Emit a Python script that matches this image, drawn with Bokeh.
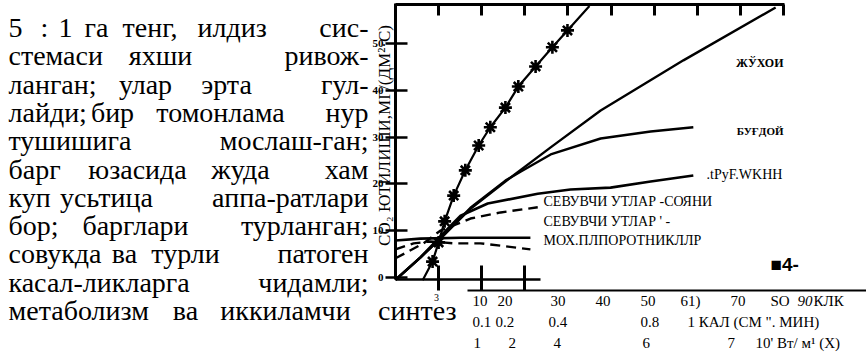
import math
from bokeh.plotting import figure
from bokeh.models import Range1d, LinearAxis, FixedTicker, Label
from bokeh.embed import file_html
from bokeh.resources import INLINE

# ---------------- data (light in klx, CO2 uptake) ----------------
star_x = [6.3, 8.6, 10.0, 11.4, 13.5, 16.2, 19.3, 22.0, 25.5, 28.5, 32.5, 36.4, 39.9, 45.0]
star_y = [-0.6, 3.4, 7.5, 12.0, 17.5, 22.9, 28.2, 32.1, 36.3, 40.8, 45.1, 49.2, 52.8, 58.0]

maize_x = [0, 5.8, 10.4, 17.4, 25.5, 36.0, 47.6, 66.8, 88.2]
maize_y = [-0.5, 4.3, 8.3, 14.7, 20.5, 27.8, 35.7, 46.4, 57.7]

wheat_x = [0, 5.8, 10.4, 17.4, 25.5, 29.0, 36.0, 47.6, 59.2, 69.1]
wheat_y = [-0.5, 4.3, 8.3, 14.9, 20.7, 22.6, 26.3, 29.7, 31.2, 32.1]

pepper_x = [0, 5.8, 12.8, 15.1, 21.4, 33.0, 40.6, 49.9, 59.2, 69.1]
pepper_y = [-0.5, 4.3, 11.1, 13.2, 15.8, 17.9, 18.8, 19.2, 20.5, 21.8]

sun_herb_x = [0, 6.5, 10.4, 17.4, 24.4, 33.0]
sun_herb_y = [4.1, 7.3, 10.0, 12.6, 13.9, 15.0]

shade_herb_x = [0, 4.2, 8.1, 13.5, 19.7, 24.4, 31.3]
shade_herb_y = [6.0, 7.3, 7.7, 7.3, 7.3, 6.8, 6.0]

moss_x = [0, 5.8, 15.1, 31.3]
moss_y = [7.9, 8.3, 8.5, 8.5]

y_ticks = [0, 10, 20, 30, 40, 50]
top_ticks = [10, 20, 30, 40, 50, 60, 70, 80, 90]
inner_ticks = [10, 20, 30]

klk_labels = ["10", "20", "30", "40", "50", "61)", "70", "SO", "90", "КЛК"]
cal_labels = ["0.1", "0.2", "0.4", "0.8", '1 КАЛ (СМ ". МИН)']
wm_labels = ["1", "2", "4", "6", "7", "10' Вт/ м¹ (Х)"]

series_names = ["ЖЎХОИ", "БУҒДОЙ", ".tPyF.WKHH",
                "СЕВУВЧИ УТЛАР -СОЯНИ", "СЕВУВЧИ УТЛАР ' -", "МОХ.ПЛПОРОТНИКЛЛР"]
y_title = "СО₂ ЮТИЛИШИ,МГ/(ДМ²·С)"

paragraph = [
    ["5", ":", "1", "га", "тенг,", "илдиз", "сис-"],
    ["стемаси", "яхши", "ривож-"],
    ["ланган;", "улар", "эрта", "гул-"],
    ["лайди;", "бир", "томонлама", "нур"],
    ["тушишига", "мослаш-ган;"],
    ["барг", "юзасида", "жуда", "хам"],
    ["куп", "усьтица", "аппа-ратлари"],
    ["бор;", "барглари", "турланган;"],
    ["совукда", "ва", "турли", "патоген"],
    ["касал-ликларга", "чидамли;"],
    ["метаболизм", "ва", "иккиламчи", "синтез"],
]

# ---------------- layout helpers (reference pixel -> data) ----------------
X0, XS = 395.0, 4.31     # pixel of x=0, pixels per klx
Y0, YS = 277.0, 4.68     # pixel of y=0, pixels per unit


def X(px):
    return (px - X0) / XS


def Y(py):
    return (Y0 - py) / YS


SERIF = "'Liberation Serif', 'Times New Roman', serif"
SANS = "'Liberation Sans', Arial, sans-serif"
W, H = 866, 360

p = figure(width=W, height=H,
           x_range=Range1d(X(0), X(W)), y_range=Range1d(Y(H), Y(0)),
           output_backend="svg", toolbar_location=None,
           x_axis_location=None, y_axis_location=None,
           min_border=0, min_border_left=0, min_border_right=0,
           min_border_top=0, min_border_bottom=0)
p.grid.visible = False
p.outline_line_color = None
p.background_fill_color = "white"
p.border_fill_color = "white"

# y axis
yax = LinearAxis(ticker=FixedTicker(ticks=y_ticks), bounds=(Y(279), Y(3)),
                 fixed_location=0,
                 axis_line_width=3, axis_line_color="black",
                 major_tick_in=12, major_tick_out=10, major_tick_line_width=2.5,
                 minor_tick_line_color=None,
                 major_label_standoff=2, major_label_text_font=SERIF,
                 major_label_text_font_style="bold",
                 major_label_text_font_size="11px", major_label_text_color="black")
p.add_layout(yax, "left")

# top frame line with hanging ticks (minor ticks only: no labels)
tax = LinearAxis(ticker=FixedTicker(ticks=[], minor_ticks=top_ticks),
                 bounds=(0, X(784)), fixed_location=Y(4),
                 axis_line_width=3, axis_line_color="black",
                 minor_tick_in=11, minor_tick_out=0, minor_tick_line_width=3,
                 minor_tick_line_color="black", major_tick_line_color=None)
p.add_layout(tax, "above")

# short inner x axis
bax = LinearAxis(ticker=FixedTicker(ticks=[], minor_ticks=inner_ticks),
                 bounds=(0, X(540)), fixed_location=Y(279),
                 axis_line_width=2.5, axis_line_color="black",
                 minor_tick_in=14, minor_tick_out=11, minor_tick_line_width=3,
                 minor_tick_line_color="black", major_tick_line_color=None)
p.add_layout(bax, "below")

# long lower rule
lax = LinearAxis(ticker=FixedTicker(ticks=[], minor_ticks=[]),
                 bounds=(X(467), X(W)), fixed_location=Y(290),
                 axis_line_width=2, axis_line_color="black",
                 minor_tick_line_color=None, major_tick_line_color=None)
p.add_layout(lax, "below")

# ---------------- curves ----------------
p.line(star_x, star_y, line_width=2.2, color="black")
p.scatter(star_x[1:-1], star_y[1:-1], marker="asterisk", size=13,
          line_width=2.6, color="black")
p.line(maize_x, maize_y, line_width=2.4, color="black")
p.line(wheat_x, wheat_y, line_width=2.4, color="black")
p.line(pepper_x, pepper_y, line_width=2.6, color="black")
p.line(sun_herb_x, sun_herb_y, line_width=2.4, color="black", line_dash="10 6")
p.line(shade_herb_x, shade_herb_y, line_width=2.4, color="black", line_dash="10 6")
p.line(moss_x, moss_y, line_width=2.6, color="black")


def lab(text, px, py, size, align="left", baseline="middle", style="normal",
        font=SERIF, angle=0.0):
    p.add_layout(Label(x=X(px), y=Y(py), text=text, text_font=font,
                       text_font_size=f"{size}px", text_font_style=style,
                       text_align=align, text_baseline=baseline,
                       text_color="black", angle=angle))


# series labels
lab(series_names[0], 783, 62, 12, align="right", style="bold")
lab(series_names[1], 783, 130, 11, align="right", style="bold")
lab(series_names[2], 706, 174, 14)
lab(series_names[3], 543, 201, 14)
lab(series_names[4], 543, 221, 14)
lab(series_names[5], 543, 240, 14)
lab("■4-", 770, 264, 19, style="bold", font=SANS)
lab("3", 436, 297, 10, align="center")

# y title (rotated)
lab(y_title, 384, 135, 17, align="center", angle=math.pi / 2)

# bottom scale rows
klk_pos = [472, 497, 550, 595, 640, 680, 730, 770, 797, 813]
for t, px in zip(klk_labels, klk_pos):
    lab(t, px, 300, 15, style="italic" if t == "90" else "normal")
cal_pos = [472, 495, 548, 640, 687]
for t, px in zip(cal_labels, cal_pos):
    lab(t, px, 321, 15)
wm_pos = [473, 508, 553, 642, 727, 755]
for t, px in zip(wm_labels, wm_pos):
    lab(t, px, 342, 15)

# paragraph (justified column)
word_pos = [
    [(8, "left"), (40, "left"), (58, "left"), (84, "left"), (122, "left"), (197, "left"), (368, "right")],
    [(8, "left"), (160, "center"), (368, "right")],
    [(8, "left"), (145, "center"), (226, "center"), (368, "right")],
    [(8, "left"), (112, "center"), (220, "center"), (368, "right")],
    [(8, "left"), (368, "right")],
    [(8, "left"), (137, "center"), (240, "center"), (368, "right")],
    [(8, "left"), (106, "center"), (368, "right")],
    [(8, "left"), (135, "center"), (368, "right")],
    [(8, "left"), (124, "center"), (185, "center"), (368, "right")],
    [(8, "left"), (368, "right")],
    [(8, "left"), (185, "center"), (285, "center"), (456, "right")],
]
for i, (words, pos) in enumerate(zip(paragraph, word_pos)):
    base = 27 + 28.3 * i
    for w, (px, al) in zip(words, pos):
        lab(w, px, base, 28, align=al, baseline="alphabetic")

open("out.html", "w").write(file_html(p, INLINE))
